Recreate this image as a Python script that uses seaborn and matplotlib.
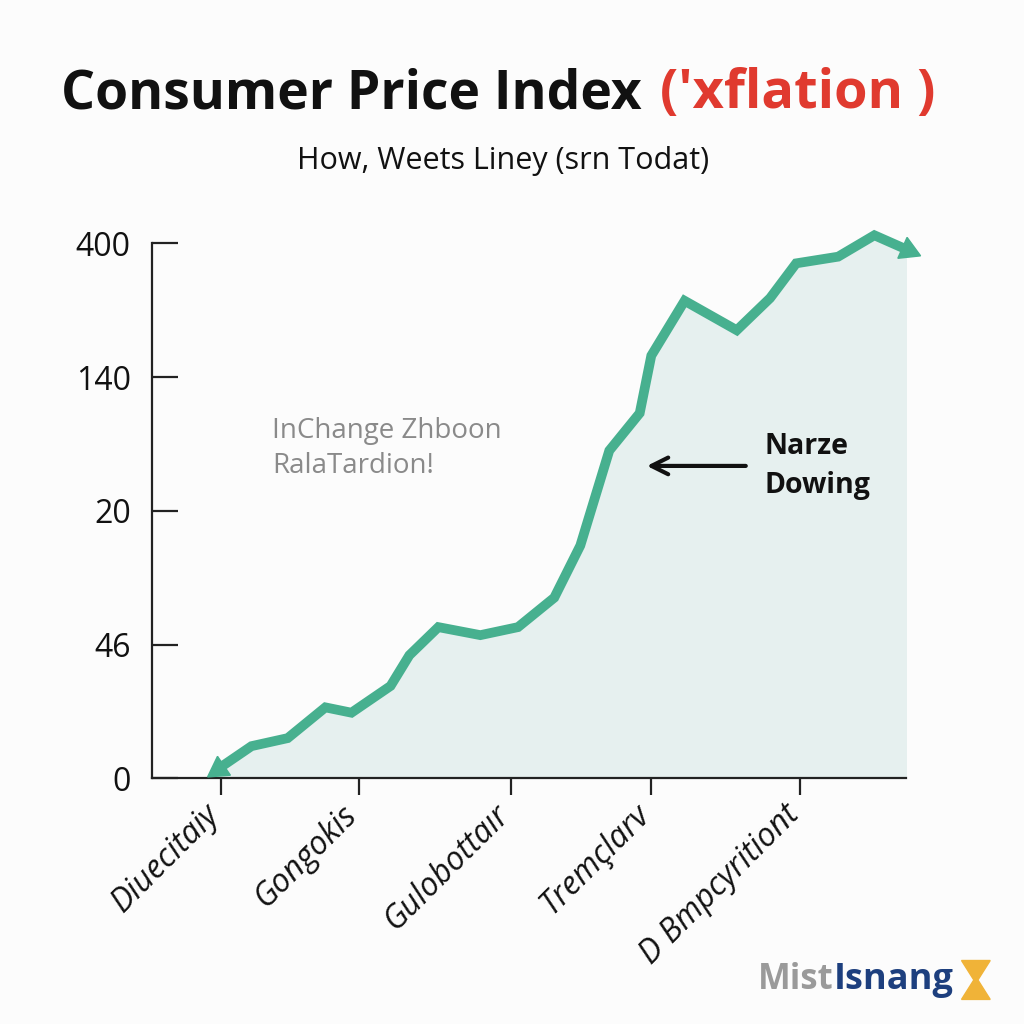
import numpy as np
import pandas as pd
import matplotlib.pyplot as plt
import matplotlib.transforms as mtransforms
import seaborn as sns
from matplotlib.patches import Polygon, FancyArrowPatch

# data (x in tick units, y in tick-slot units)
period = [-0.02, 0.21, 0.46, 0.72, 0.90, 1.17, 1.30, 1.50, 1.79, 2.05, 2.30,
          2.48, 2.68, 2.89, 2.97, 3.20, 3.56, 3.79, 3.97, 4.26, 4.51, 4.74]
cpi = [0.07, 0.24, 0.30, 0.53, 0.49, 0.69, 0.92, 1.13, 1.07, 1.13, 1.35,
       1.74, 2.45, 2.73, 3.16, 3.57, 3.35, 3.59, 3.85, 3.90, 4.06, 3.95]
x_ticks = [0, 0.95, 2.0, 2.97, 4.0]
x_labels = ['Diuecitaiy', 'Gongokis', 'Gulobottaır', 'Tremçlarv', 'D Bmpcyritiont']
y_ticks = [0, 1, 2, 3, 4]
y_labels = ['0', '46', '20', '140', '400']

df = pd.DataFrame({'period': period, 'cpi': cpi})

sns.set_theme(style='white')
plt.rcParams['font.family'] = ['Open Sans', 'DejaVu Sans']

line_color = '#47b08f'
bg = '#fcfcfc'

fig = plt.figure(figsize=(10.24, 10.24), dpi=100, facecolor=bg)
ax = fig.add_axes([0.148, 0.240, 0.737, 0.542])
ax.set_facecolor(bg)

ax.set_xlim(-0.48, 4.73)
ax.set_ylim(0, 4.15)

# 1. filled area + line
ax.fill_between(df['period'], 0, df['cpi'], color='#e6f0ef', zorder=1)
sns.lineplot(data=df, x='period', y='cpi', ax=ax, color=line_color,
             linewidth=7, sort=False, zorder=3)
ax.lines[0].set_solid_joinstyle('miter')
ax.lines[0].set_clip_on(False)

# arrow heads on both ends of the line, turned along the end segments
for a, b in [(1, 0), (-2, -1)]:
    pa = ax.transData.transform((period[a], cpi[a]))
    pb = ax.transData.transform((period[b], cpi[b]))
    ang = np.degrees(np.arctan2(pb[1] - pa[1], pb[0] - pa[0]))
    ax.plot([period[b]], [cpi[b]], marker=(3, 0, ang - 90), markersize=19,
            color=line_color, clip_on=False, zorder=4)

ax.spines['left'].set_bounds(0, 4)
for s in ['top', 'right']:
    ax.spines[s].set_visible(False)
for s in ['left', 'bottom']:
    ax.spines[s].set_color('#222222')
    ax.spines[s].set_linewidth(1.6)

ax.set_yticks(y_ticks)
ax.set_yticklabels(y_labels, fontsize=23, color='#111111')
ax.set_xticks(x_ticks)
ax.set_xticklabels(x_labels, fontsize=23, style='italic', rotation=45,
                   ha='right', rotation_mode='anchor', color='#111111')
ax.tick_params(axis='y', left=True, direction='in', length=19, width=1.6,
               color='#222222', pad=15)
ax.tick_params(axis='x', bottom=True, direction='inout', length=24, width=1.6,
               color='#222222', pad=8)
# nudge the slanted labels a little left and up, as in the picture
shift = mtransforms.ScaledTranslation(-18 / 100, 8 / 100, fig.dpi_scale_trans)
for tick in ax.xaxis.get_major_ticks():
    tick.label1.set_transform(tick.label1.get_transform() + shift)
ax.set_xlabel('')
ax.set_ylabel('')

# 2. annotations
ax.text(0.16, 0.650, 'InChange Zhboon\nRalaTardion!', transform=ax.transAxes,
        fontsize=20, color='#8a8a8a', va='top', ha='left', linespacing=1.3)
fig.text(0.747, 0.578, 'Narze\nDowing', fontsize=20.5, fontweight='bold',
         color='#111111', va='top', ha='left', linespacing=1.45)
fig.patches.append(FancyArrowPatch(
    (0.731, 0.545), (0.629, 0.545), transform=fig.transFigure,
    arrowstyle='->', mutation_scale=30, lw=3, color='#111111'))

# 3. titles
fig.text(0.627, 0.908, 'Consumer Price Index', fontsize=38.5, fontweight='bold',
         color='#111111', ha='right', va='center')
fig.text(0.645, 0.908, "('xflation )", fontsize=39, fontweight='bold',
         color='#e03a2f', ha='left', va='center')
fig.text(0.491, 0.843, 'How, Weets Liney (srn Todat)', fontsize=22,
         color='#111111', ha='center', va='center')

# 4. logo
fig.text(0.740, 0.043, 'Mist', fontsize=25, fontweight='bold', color='#9a9a9a',
         ha='left', va='center')
fig.text(0.814, 0.043, 'Isnang', fontsize=26, fontweight='bold', color='#1d3f7e',
         ha='left', va='center')
icon = Polygon([[0.939, 0.062], [0.967, 0.062], [0.955, 0.043], [0.967, 0.024],
                [0.939, 0.024], [0.951, 0.043]], closed=True,
               transform=fig.transFigure, color='#f0b338')
fig.patches.append(icon)

fig.savefig('out.png', dpi=100, facecolor=bg)
